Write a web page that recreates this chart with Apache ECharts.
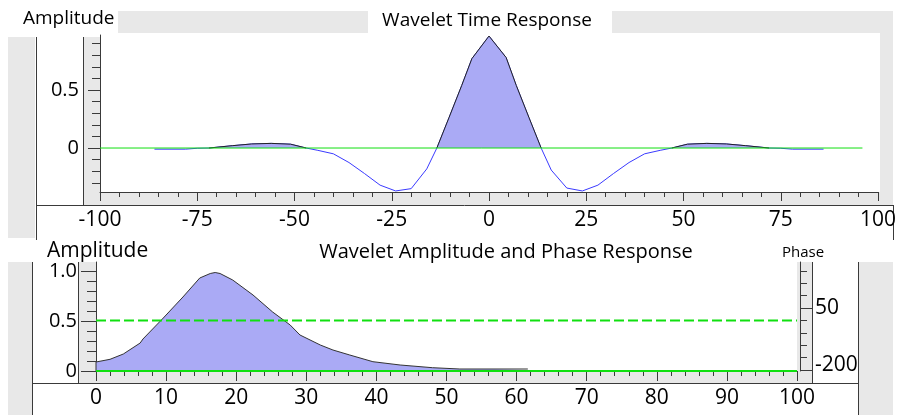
<!DOCTYPE html>
<html>
<head>
<meta charset="utf-8">
<title>Wavelet</title>
<script src="https://cdn.jsdelivr.net/npm/echarts@6/dist/echarts.min.js"></script>
<style>
  html, body { margin: 0; padding: 0; background: #fff; }
  #chart { width: 900px; height: 415px; }
</style>
</head>
<body>
<div id="chart"></div>
<script>
// time response (ms, amplitude)
var timeX = [-86, -78, -75, -72, -66, -61, -56, -51, -47, -44, -40, -36, -32, -28, -24, -20, -16, -13.4, -10.3, -7, -4.4, 0,
             4.4, 7, 10.3, 13.4, 16, 20, 24, 28, 32, 36, 40, 44, 47, 51, 56, 61, 66, 72, 75, 78, 86];
var timeY = [-0.01, -0.01, -0.002, 0, 0.02, 0.035, 0.04, 0.033, 0, -0.02, -0.05, -0.125, -0.22, -0.32, -0.37, -0.35, -0.18, 0, 0.26, 0.54, 0.77, 0.965,
             0.78, 0.54, 0.26, 0, -0.19, -0.345, -0.37, -0.32, -0.22, -0.125, -0.05, -0.02, 0, 0.033, 0.04, 0.035, 0.02, 0, -0.002, -0.01, -0.01];
var timeZero = [[-100, 0], [96, 0]];

// amplitude spectrum (Hz, normalised)
var freqX = [0, 0, 2, 3.9, 6.3, 6.7, 9.6, 12.4, 14.8, 16.3, 17, 17.7, 19.5, 22.4, 25.2, 27.7, 29.1, 32, 33.8, 36.2, 39.5, 43.4, 48, 51.9, 61.6];
var ampY  = [0, 0.09, 0.117, 0.17, 0.28, 0.32, 0.53, 0.74, 0.93, 0.975, 0.985, 0.975, 0.91, 0.76, 0.59, 0.46, 0.36, 0.26, 0.21, 0.16, 0.093, 0.06, 0.033, 0.02, 0.02];
var phaseX = [0, 100];
var phaseY = [0, 0];

// tick values / labels
var timeTickLabels = [0, 0.5];
var timeMinorTicks = [-0.3, -0.2, -0.1, 0.1, 0.2, 0.3, 0.4, 0.6, 0.7, 0.8, 0.9];
var ampTickLabels = [0, 0.5, 1.0];
var ampMinorTicks = [0.1, 0.2, 0.3, 0.4, 0.6, 0.7, 0.8, 0.9];
var phaseTickLabels = [-200, 50];
var phaseMinorTicks = [-150, -100, -50, 0, 100, 150, 200];

var FONT = 'Open Sans';
var GRAY = '#e8e8e8';
var EDGE = '#3a3a3a';
var FILL = '#aaaaf5';
var GREEN = '#10e010';

function pairs(xs, ys) {
  return xs.map(function (x, i) { return [x, ys[i]]; });
}

var timeLine = pairs(timeX, timeY);
var timePos = timeX.map(function (x, i) { return timeY[i] >= 0 ? [x, timeY[i]] : [x, '-']; });

function rect(x, y, w, h) {
  return { type: 'rect', z: -10, silent: true, shape: { x: x, y: y, width: w, height: h }, style: { fill: GRAY } };
}
function vline(x, y1, y2) {
  return { type: 'line', z: -5, silent: true, shape: { x1: x + 0.5, y1: y1, x2: x + 0.5, y2: y2 }, style: { stroke: EDGE, lineWidth: 1 } };
}
function hline(y, x1, x2) {
  return { type: 'line', z: -5, silent: true, shape: { x1: x1, y1: y + 0.5, x2: x2, y2: y + 0.5 }, style: { stroke: EDGE, lineWidth: 1 } };
}
function label(txt, x, y, size, align) {
  return { type: 'text', z: 10, silent: true, x: x, y: y,
    style: { text: txt, fill: '#000', font: size + 'px "' + FONT + '"', align: align || 'left', verticalAlign: 'middle' } };
}

var chart = echarts.init(document.getElementById('chart'));

var noZero = { onZero: false, lineStyle: { color: EDGE } };

chart.setOption({
  animation: false,
  backgroundColor: '#fff',
  graphic: { elements: [
    // top panel frame
    rect(118, 11, 250, 22), rect(612, 11, 281, 22),
    rect(880, 33, 13, 172),
    rect(8, 37, 27, 201),
    rect(84, 37, 16, 168),
    rect(100, 192, 780, 13),
    vline(36, 37, 240), vline(83, 37, 205), vline(893, 205, 240),
    hline(205, 36, 893),
    label('Amplitude', 23, 19, 19),
    label('Wavelet Time Response', 487, 21, 19, 'center'),
    // bottom panel frame
    rect(8, 262, 24, 153),
    rect(79, 262, 17, 121),
    rect(96, 372, 701, 11),
    rect(797, 262, 15, 121),
    rect(859, 262, 34, 153),
    vline(32, 262, 415), vline(78, 262, 383), vline(812, 262, 383), vline(858, 262, 415),
    hline(383, 32, 858),
    label('Amplitude', 47, 251, 21),
    label('Wavelet Amplitude and Phase Response', 506, 252, 20, 'center'),
    label('Phase', 782, 253, 15)
  ] },
  grid: [
    { left: 100, top: 35, width: 778, height: 157 },
    { left: 96, top: 262, width: 701, height: 109 }
  ],
  xAxis: [
    { gridIndex: 0, type: 'value', min: -100, max: 100, interval: 25, position: 'bottom',
      axisLine: noZero,
      axisTick: { length: 9, lineStyle: { color: EDGE } },
      minorTick: { show: true, splitNumber: 5, length: 5, lineStyle: { color: EDGE } },
      splitLine: { show: false }, minorSplitLine: { show: false },
      axisLabel: { fontSize: 21, fontFamily: FONT, color: '#000', margin: 18 } },
    { gridIndex: 1, type: 'value', min: 0, max: 100, interval: 10, position: 'bottom',
      axisLine: noZero,
      axisTick: { length: 10, lineStyle: { color: EDGE } },
      minorTick: { show: true, splitNumber: 5, length: 5, lineStyle: { color: EDGE } },
      splitLine: { show: false }, minorSplitLine: { show: false },
      axisLabel: { fontSize: 21, fontFamily: FONT, color: '#000', margin: 17 } }
  ],
  yAxis: [
    { gridIndex: 0, type: 'value', min: -0.379, max: 0.974, position: 'left',
      axisLine: { show: true, onZero: false, lineStyle: { color: EDGE } },
      axisTick: { show: true, customValues: timeTickLabels, length: 12, lineStyle: { color: EDGE } },
      splitLine: { show: false },
      axisLabel: { customValues: timeTickLabels, fontSize: 20, fontFamily: FONT, color: '#000', margin: 21 } },
    { gridIndex: 0, type: 'value', min: -0.379, max: 0.974, position: 'left',
      axisLine: { show: false, onZero: false },
      axisTick: { show: true, customValues: timeMinorTicks, length: 8, lineStyle: { color: EDGE } },
      splitLine: { show: false }, axisLabel: { show: false } },
    { gridIndex: 1, type: 'value', min: 0, max: 1.09, position: 'left',
      axisLine: { show: true, onZero: false, lineStyle: { color: EDGE } },
      axisTick: { show: true, customValues: ampTickLabels, length: 15, lineStyle: { color: EDGE } },
      splitLine: { show: false },
      axisLabel: { customValues: ampTickLabels, fontSize: 20, fontFamily: FONT, color: '#000', margin: 19,
        formatter: function (v) { return v === 1 ? '1.0' : String(v); } } },
    { gridIndex: 1, type: 'value', min: 0, max: 1.09, position: 'left',
      axisLine: { show: false, onZero: false },
      axisTick: { show: true, customValues: ampMinorTicks, length: 9, lineStyle: { color: EDGE } },
      splitLine: { show: false }, axisLabel: { show: false } },
    { gridIndex: 1, type: 'value', min: -204, max: 235.5, position: 'right', offset: 3,
      axisLine: { show: true, onZero: false, lineStyle: { color: EDGE } },
      axisTick: { show: true, customValues: phaseTickLabels, length: 12, lineStyle: { color: EDGE } },
      splitLine: { show: false },
      axisLabel: { customValues: phaseTickLabels, fontSize: 21, fontFamily: FONT, color: '#000', margin: 15,
        formatter: function (v) { return v === -200 ? '{lo|-200}' : String(v); },
        rich: { lo: { fontSize: 21, fontFamily: FONT, color: '#000', padding: [0, 0, 10, 0] } } } },
    { gridIndex: 1, type: 'value', min: -204, max: 235.5, position: 'right', offset: 3,
      axisLine: { show: false, onZero: false },
      axisTick: { show: true, customValues: phaseMinorTicks, length: 7, lineStyle: { color: EDGE } },
      splitLine: { show: false }, axisLabel: { show: false } }
  ],
  series: [
    { type: 'line', xAxisIndex: 0, yAxisIndex: 0, data: timeLine, symbol: 'none',
      lineStyle: { color: '#3a3aff', width: 1 }, z: 3 },
    { type: 'line', xAxisIndex: 0, yAxisIndex: 0, data: timePos, symbol: 'none', connectNulls: false,
      lineStyle: { color: '#222', width: 1 }, areaStyle: { color: FILL, opacity: 1 }, z: 4 },
    { type: 'line', xAxisIndex: 0, yAxisIndex: 0, data: timeZero, symbol: 'none', clip: false,
      lineStyle: { color: GREEN, width: 1 }, z: 5 },
    { type: 'line', xAxisIndex: 1, yAxisIndex: 2, data: pairs(freqX, ampY), symbol: 'none',
      lineStyle: { color: '#333', width: 1 }, areaStyle: { color: FILL, opacity: 1 }, z: 3 },
    { type: 'line', xAxisIndex: 1, yAxisIndex: 2, data: [[0, 0], [100, 0]], symbol: 'none', clip: false,
      lineStyle: { color: GREEN, width: 2 }, z: 5 },
    { type: 'line', xAxisIndex: 1, yAxisIndex: 4, data: pairs(phaseX, phaseY), symbol: 'none', clip: false,
      lineStyle: { color: GREEN, width: 2, type: [10, 4] }, z: 5 }
  ]
});
</script>
</body>
</html>
